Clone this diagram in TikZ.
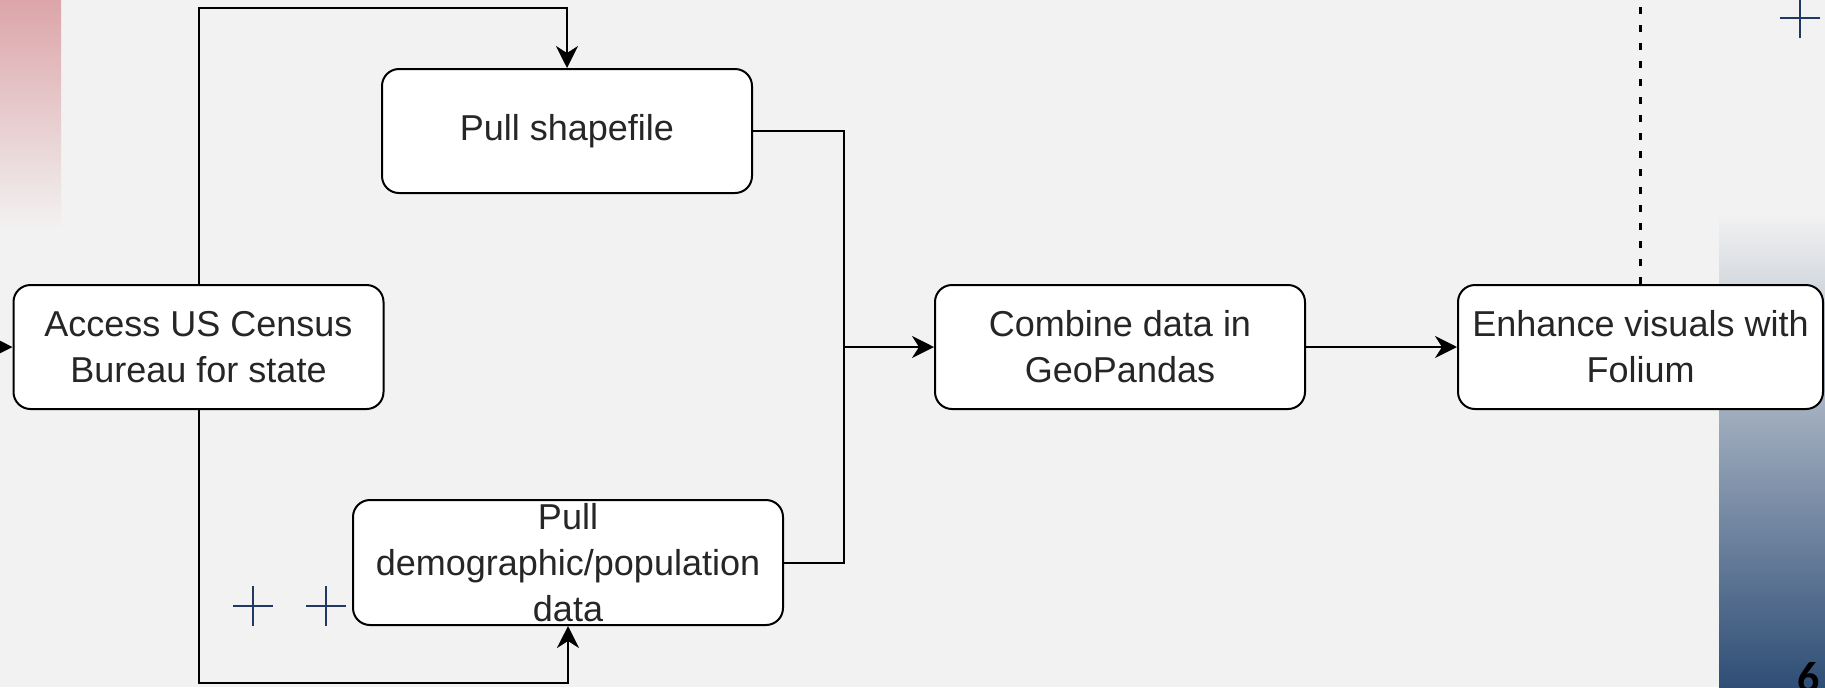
\documentclass[tikz,border=0pt]{standalone}
\usepackage{fontspec}
\setmainfont{Liberation Sans}
\newfontfamily\slidefont{Carlito}
\definecolor{slidebg}{HTML}{F2F2F2}
\definecolor{slidepink}{HTML}{DCA5A9}
\definecolor{slidenavy}{HTML}{2F4E76}
\definecolor{crossblue}{HTML}{1F3864}
\usetikzlibrary{arrows.meta, calc, positioning}

\begin{document}
\begin{tikzpicture}[x=0.5pt, y=-0.5pt,
		stage/.style={draw, line width=1pt, rounded corners=8.5pt, fill=white, minimum width=185pt, minimum height=62pt, inner sep=0pt, align=center, text=black!85, font=\fontsize{18}{23}\selectfont},
		flow/.style={line width=1pt, -{Stealth[length=11pt, width=11pt, inset=3.5pt]}}]
			\pgfmathsetmacro{\railtop}{8}
			\pgfmathsetmacro{\railbot}{683}
			\useasboundingbox (0,0) rectangle (1825,687);
			\clip (0,0) rectangle (1825,687);
			% Slide background
			\fill[slidebg] (0,0) rectangle (1825,687);
			\shade[top color=slidepink, bottom color=slidebg] (0,0) rectangle (61,230);
			\shade[top color=slidebg, bottom color=slidenavy] (1719,213) rectangle (1825,687);
			\foreach \cx/\cy in {1800/18, 253/606, 326/606}
			{
				\draw[crossblue, line width=0.8pt] (\cx-20,\cy) -- (\cx+20,\cy) (\cx,\cy-20) -- (\cx,\cy+20);
			}
			\node[anchor=north, inner sep=0pt, font=\slidefont\bfseries\fontsize{22}{26}\selectfont] (pagenum) at (1808.5,662) {6};
			
			% Boxes
			\node[stage] (access) at (198.5,347) {Access US Census\\Bureau for state};
			\node[stage] (shape) at (567,131) {Pull shapefile};
			\node[stage, minimum width=215pt, minimum height=62.5pt] (demo) at (568,562.5) {Pull\\demographic/population\\data};
			\node[stage] (combine) at (1120,347) {Combine data in\\GeoPandas};
			\node[stage, minimum width=182.5pt] (folium) at (1640.5,347) {Enhance visuals with\\Folium};
			
			% Rails
			\coordinate (slidetop) at (0,0);
			\coordinate (toprail) at (0,\railtop);
			\coordinate (botrail) at (0,\railbot);
			\coordinate (entry) at (0,347);
			\coordinate (merge) at (844,347);
			
			% Arrows
			\draw[flow] (entry) -- (access);
			\draw[flow] (access.north) -- (access.north |- toprail) -| (shape.north);
			\draw[flow] (access.south) -- (access.south |- botrail) -| (demo.south);
			\draw[line width=1pt] (shape.east) -| (merge);
			\draw[line width=1pt] (demo.east) -| (merge);
			\draw[flow] (merge) -- (combine);
			\draw[flow] (combine) -- (folium);
			\draw[line width=1.1pt, dash pattern=on 3.5pt off 5.5pt] (folium.north) -- (folium.north |- slidetop);
			
		\end{tikzpicture}
\end{document}
